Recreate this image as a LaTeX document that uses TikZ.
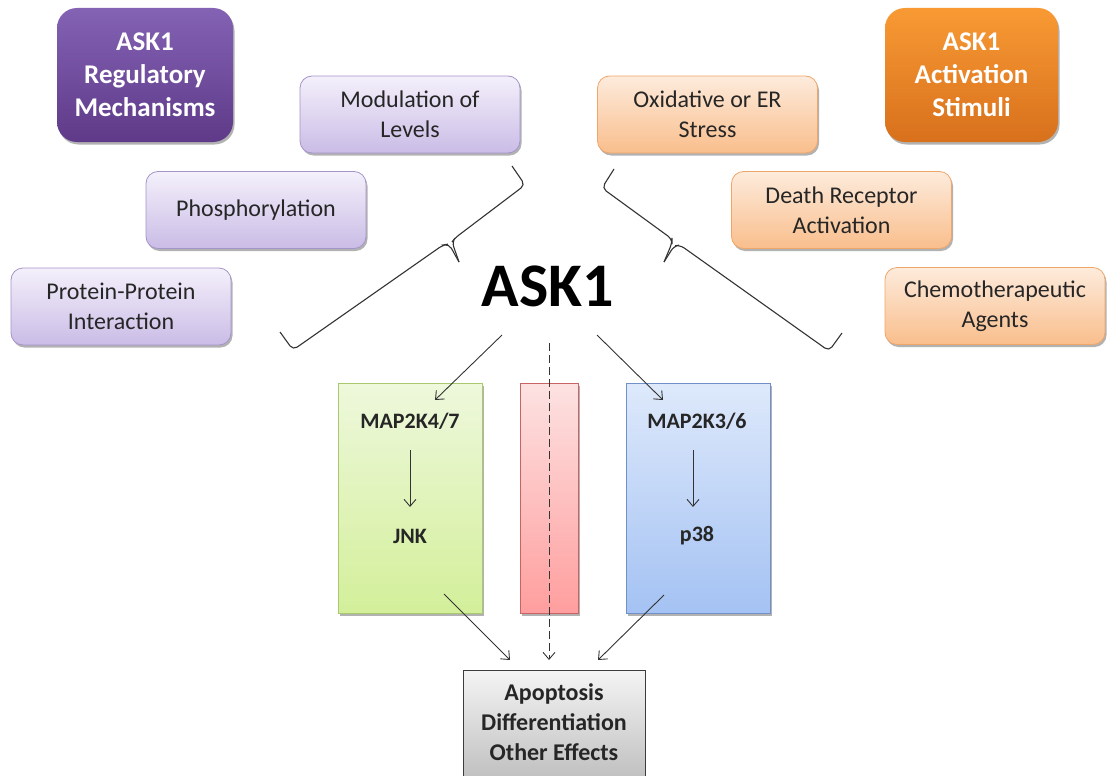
\documentclass[tikz,border=0pt]{standalone}
\usepackage{fontspec}
\setmainfont{Carlito}
\usetikzlibrary{arrows.meta,shadows}
\definecolor{txt}{HTML}{262626}
\definecolor{ptop}{HTML}{8462B4}
\definecolor{pbot}{HTML}{5E3A88}
\definecolor{otop}{HTML}{F89A34}
\definecolor{obot}{HTML}{D8701C}
\definecolor{lptop}{HTML}{F4F0FB}
\definecolor{lpbot}{HTML}{CABCE6}
\definecolor{lpdraw}{HTML}{A494CA}
\definecolor{lotop}{HTML}{FDEBDC}
\definecolor{lobot}{HTML}{F9BE8C}
\definecolor{lodraw}{HTML}{EFA66A}
\definecolor{gtop}{HTML}{EEF8DC}
\definecolor{gbot}{HTML}{D3EF9A}
\definecolor{gdraw}{HTML}{A8C96E}
\definecolor{rtop}{HTML}{FDE2E2}
\definecolor{rbot}{HTML}{FF9E9E}
\definecolor{rdraw}{HTML}{C86464}
\definecolor{btop}{HTML}{DEE9FB}
\definecolor{bbot}{HTML}{A4C2F3}
\definecolor{bdraw}{HTML}{6F90C8}
\definecolor{gytop}{HTML}{F4F4F4}
\definecolor{gybot}{HTML}{BEBEBE}
\definecolor{gydraw}{HTML}{3C3C3C}
\definecolor{ln}{HTML}{333333}
\tikzset{
  shad/.style={drop shadow={shadow xshift=1.5pt,shadow yshift=-2.5pt,opacity=0.3,fill=black}},
  titlebox/.style={rounded corners=20pt,draw=none,shad,align=center,inner sep=0pt,
    text=white,font=\fontsize{27}{33}\selectfont\bfseries},
  ptitle/.style={titlebox,top color=ptop,bottom color=pbot},
  otitle/.style={titlebox,top color=otop,bottom color=obot},
  itembox/.style={rounded corners=12pt,line width=0.8pt,shad,align=center,inner sep=0pt,
    text=txt,font=\fontsize{24}{30}\selectfont,minimum width=220pt,minimum height=77pt},
  pitem/.style={itembox,draw=lpdraw,top color=lptop,bottom color=lpbot},
  oitem/.style={itembox,draw=lodraw,top color=lotop,bottom color=lobot},
  panel/.style={line width=0.8pt,inner sep=0pt,shad},
  lbl/.style={text=txt,font=\fontsize{22}{26}\selectfont\bfseries,inner sep=0pt},
  brace/.style={draw=ln,line width=1.1pt,rounded corners=5pt},
  arr/.style={draw=ln,line width=0.9pt,-{Straight Barb[length=7pt,width=12pt,line width=0.9pt]}},
}
\begin{document}
\begin{tikzpicture}[x=1pt,y=-1pt]
\useasboundingbox (0,0) rectangle (1108,776);
% title boxes
\node[ptitle,minimum width=176pt,minimum height=134pt] (regt) at (145,75) {ASK1\\Regulatory\\Mechanisms};
\node[otitle,minimum width=173pt,minimum height=134pt] (actt) at (971.5,75) {ASK1\\Activation\\Stimuli};
% purple items
\node[pitem] (mod) at (410,114.5) {Modulation of\\Levels};
\node[pitem] (phos) at (256,210) {Phosphorylation};
\node[pitem] (ppi) at (121,306.5) {Protein-Protein\\Interaction};
% orange items
\node[oitem] (ox) at (707.5,114.5) {Oxidative or ER\\Stress};
\node[oitem] (dr) at (841.5,210) {Death Receptor\\Activation};
\node[oitem] (chem) at (995,306) {Chemotherapeutic\\Agents};
% ASK1
\node[text=black,font=\fontsize{62}{70}\selectfont\bfseries,inner sep=0pt] (ask) at (548,286) {ASK1};
% braces
\draw[brace] (280,332) -- (293,350) -- (443,245) -- (449,244) -- (459,262);
\draw[brace] (459,262) -- (452,242) -- (455,238) -- (525,185) -- (512,166);
\draw[brace] (614,169) -- (602,188) -- (672,239) -- (672,243) -- (664,262);
\draw[brace] (664,262) -- (674,246) -- (680,245) -- (829,351) -- (842,333);
% panels
\node[panel,draw=gdraw,top color=gtop,bottom color=gbot,minimum width=144pt,minimum height=230pt] (green) at (410,498) {};
\node[panel,draw=rdraw,top color=rtop,bottom color=rbot,minimum width=58pt,minimum height=230pt] (red) at (549,498) {};
\node[panel,draw=bdraw,top color=btop,bottom color=bbot,minimum width=144pt,minimum height=230pt] (blue) at (698,498) {};
\node[lbl] (m47) at (410,421) {MAP2K4/7};
\node[lbl] (jnk) at (410,536) {JNK};
\node[lbl] (m36) at (697,421) {MAP2K3/6};
\node[lbl] (p38) at (697,536) {p38};
% bottom box
\node[draw=gydraw,line width=0.9pt,top color=gytop,bottom color=gybot,minimum width=182pt,minimum height=112pt,inner sep=0pt,anchor=north] (out) at (554,670) {};
\node[text=txt,font=\fontsize{24}{30}\selectfont\bfseries,align=center,inner sep=0pt] (outtxt) at (554,722) {Apoptosis\\Differentiation\\Other Effects};
% connector coordinates
\coordinate (a1s) at (502,335);
\coordinate (a1e) at (435,400);
\coordinate (a2s) at (597,335);
\coordinate (a2e) at (663,400);
\coordinate (ds) at (549,343);
\coordinate (de) at (549,660);
\coordinate (g1) at (410,450);
\coordinate (g2) at (410,507);
\coordinate (b1) at (693,450);
\coordinate (b2) at (693,507);
\coordinate (gs) at (444,594);
\coordinate (ge) at (510,660);
\coordinate (bs) at (664,595);
\coordinate (be) at (598,660);
\draw[arr] (a1s) -- (a1e);
\draw[arr] (a2s) -- (a2e);
\draw[arr,dash pattern=on 8pt off 4pt] (ds) -- (de);
\draw[arr] (g1) -- (g2);
\draw[arr] (b1) -- (b2);
\draw[arr] (gs) -- (ge);
\draw[arr] (bs) -- (be);
\end{tikzpicture}
\end{document}
